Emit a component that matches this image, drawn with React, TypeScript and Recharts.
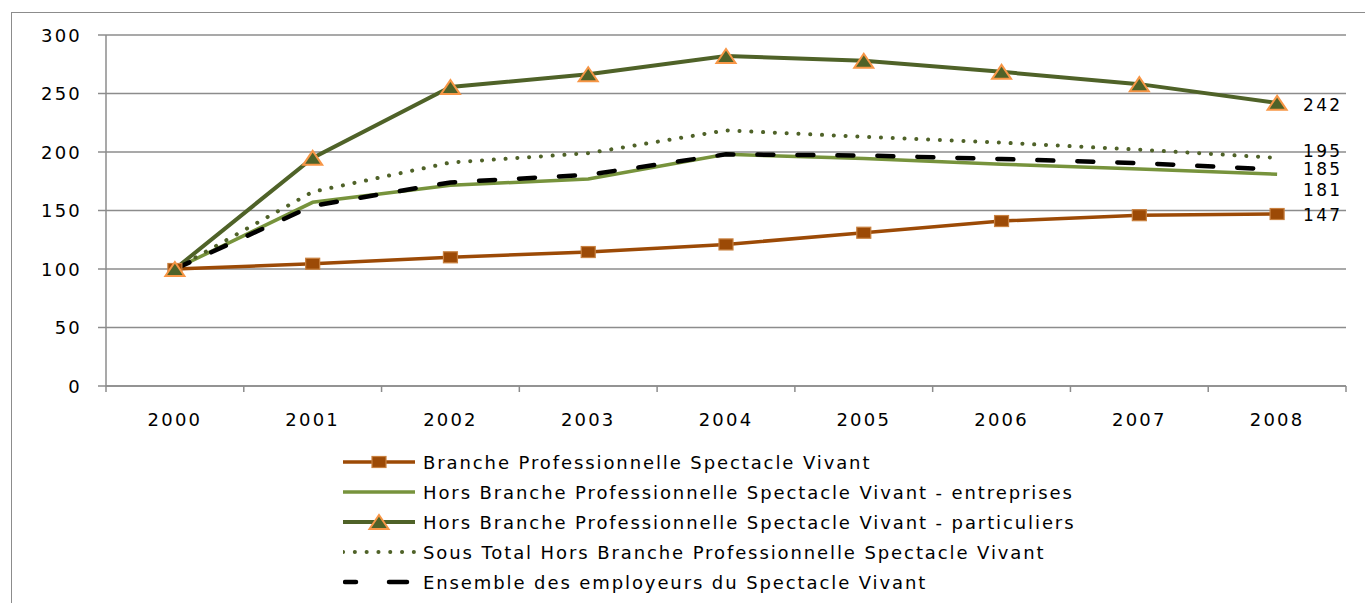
import React from "react";
import { LineChart, Line, XAxis, YAxis, CartesianGrid, Legend, LabelList } from "recharts";

// index base 100 en 2000
const years = ["2000", "2001", "2002", "2003", "2004", "2005", "2006", "2007", "2008"];
const branche = [100, 104.5, 110, 114.5, 121, 131, 141, 146, 147];
const entreprises = [100, 157, 171.5, 177, 198, 194.5, 189.5, 185.5, 181];
const particuliers = [100, 195, 255.5, 266.5, 282, 278, 268.5, 258, 242];
const sousTotal = [100, 166, 191, 199, 218.5, 213, 208, 202, 195];
const ensemble = [100, 154, 174, 180.5, 198, 197, 194, 190.5, 185];
const yTicks = [0, 50, 100, 150, 200, 250, 300];

const W = 1365;
const H = 603;
const M = { top: 35, right: 19, left: 0, bottom: 167 };
const Y_W = 106;
const HALF_BAND = (W - Y_W - M.right) / years.length / 2;
const GRID = "#8c8c8c";
const FONT = "'DejaVu Sans', sans-serif";

const data = years.map((year, i) => ({
  idx: i,
  year,
  branche: branche[i],
  entreprises: entreprises[i],
  particuliers: particuliers[i],
  sousTotal: sousTotal[i],
  ensemble: ensemble[i],
}));

const xBounds = years.map((_, i) => i - 0.5).concat(years.length - 0.5);

const SquareDot = (props: any) => {
  const { cx, cy } = props;
  if (cx == null || cy == null) return null;
  return <rect x={cx - 7} y={cy - 5.5} width={14} height={11} fill="#9C4A06" stroke="#C8803F" strokeWidth={1.2} />;
};

const TriangleDot = (props: any) => {
  const { cx, cy } = props;
  if (cx == null || cy == null) return null;
  return (
    <polygon
      points={`${cx},${cy - 7} ${cx + 9.5},${cy + 7} ${cx - 9.5},${cy + 7}`}
      fill="#4F6228"
      stroke="#F79646"
      strokeWidth={2}
      strokeLinejoin="miter"
    />
  );
};

const series = [
  { key: "branche", name: "Branche Professionnelle Spectacle Vivant", color: "#9C4A06", width: 3.5, dash: undefined, cap: "butt", dot: SquareDot, labelDy: 1 },
  { key: "entreprises", name: "Hors Branche Professionnelle Spectacle Vivant - entreprises", color: "#77933C", width: 3.5, dash: undefined, cap: "butt", dot: null, labelDy: 16 },
  { key: "particuliers", name: "Hors Branche Professionnelle Spectacle Vivant - particuliers", color: "#4F6228", width: 4, dash: undefined, cap: "butt", dot: TriangleDot, labelDy: 2 },
  { key: "sousTotal", name: "Sous Total  Hors Branche Professionnelle Spectacle Vivant", color: "#4F6228", width: 4, dash: "0.1 11.7", cap: "round", dot: null, labelDy: -7 },
  { key: "ensemble", name: "Ensemble des employeurs du Spectacle Vivant", color: "#000000", width: 4.5, dash: "16 24", cap: "round", dot: null, labelDy: -1 },
];

const textStyle = { fontFamily: FONT, fontSize: 18, letterSpacing: "2.2px", fill: "#000" };

const XTick = (props: any) => {
  const { x, y, payload } = props;
  const i = payload.value + 0.5;
  if (i >= years.length) return null;
  return (
    <text x={x + HALF_BAND} y={y + 25} textAnchor="middle" dominantBaseline="central" style={textStyle}>
      {years[i]}
    </text>
  );
};

const YTick = (props: any) => {
  const { x, y, payload } = props;
  return (
    <text x={x} y={y} textAnchor="end" dominantBaseline="central" style={textStyle}>
      {payload.value}
    </text>
  );
};

const endLabel = (dy: number) => (props: any) => {
  const { x, y, value, index } = props;
  if (index !== years.length - 1) return null;
  return (
    <text x={x + 26} y={y + dy} dominantBaseline="central" style={{ ...textStyle, fontSize: 17 }}>
      {value}
    </text>
  );
};

const LegendIcon = ({ s }: { s: any }) => {
  if (s.key === "ensemble") {
    return (
      <g stroke="#000" strokeWidth={4.5} strokeLinecap="round">
        <line x1={2} y1={0} x2={13} y2={0} />
        <line x1={46} y1={0} x2={64} y2={0} />
      </g>
    );
  }
  return (
    <g>
      <line x1={0} y1={0} x2={72} y2={0} stroke={s.color} strokeWidth={s.width} strokeDasharray={s.dash} strokeLinecap={s.cap} />
      {s.dot ? s.dot({ cx: 36, cy: 0 }) : null}
    </g>
  );
};

const LegendContent = () => (
  <svg width={780} height={150}>
    {series.map((s, i) => (
      <g key={s.key} transform={`translate(0, ${15 + i * 30})`}>
        <LegendIcon s={s} />
        <text x={80} y={0} dominantBaseline="central" style={{ ...textStyle, fontSize: 18, letterSpacing: "1.9px" }}>
          {s.name}
        </text>
      </g>
    ))}
  </svg>
);

export default function App() {
  return (
    <div style={{ position: "absolute", left: 0, top: 0, width: W, height: H, overflow: "hidden", background: "#fff" }}>
      <div style={{ position: "absolute", left: 11, top: 12, width: 1500, height: 800, borderLeft: `1.5px solid ${GRID}`, borderTop: `1.5px solid ${GRID}` }} />
      <div style={{ position: "absolute", left: 0, top: 0 }}>
        <LineChart width={W} height={H} data={data} margin={M}>
          <CartesianGrid vertical={false} stroke={GRID} strokeWidth={1.5} />
          <XAxis
            type="number"
            dataKey="idx"
            domain={[-0.5, years.length - 0.5]}
            ticks={xBounds}
            interval={0}
            height={50}
            tickSize={6}
            stroke={GRID}
            strokeWidth={1.5}
            tick={<XTick />}
          />
          <YAxis
            domain={[0, 300]}
            ticks={yTicks}
            interval={0}
            width={Y_W}
            tickSize={8}
            tickMargin={16}
            stroke={GRID}
            strokeWidth={1.5}
            tick={<YTick />}
          />
          <Legend
            layout="vertical"
            align="center"
            verticalAlign="middle"
            wrapperStyle={{ left: 343, top: 447, width: 780, height: 150 }}
            content={<LegendContent />}
          />
          {series.map((s) => (
            <Line
              key={s.key}
              type="linear"
              dataKey={s.key}
              name={s.name}
              stroke={s.color}
              strokeWidth={s.width}
              strokeDasharray={s.dash}
              strokeLinecap={s.cap as any}
              dot={s.dot ? s.dot : false}
              activeDot={false}
              isAnimationActive={false}
            >
              <LabelList dataKey={s.key} content={endLabel(s.labelDy)} />
            </Line>
          ))}
        </LineChart>
      </div>
    </div>
  );
}
